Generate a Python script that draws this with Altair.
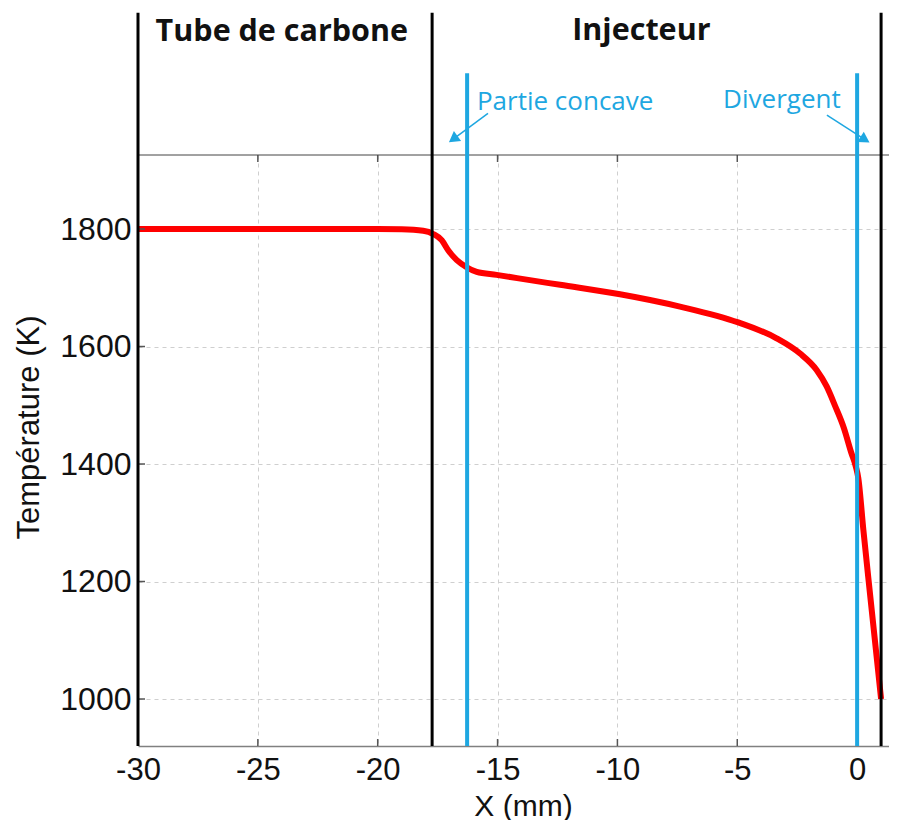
import altair as alt
import pandas as pd

# ---- data ----
x_mm = [-30, -25, -20, -19, -18.1, -17.68, -17.33, -17.06, -16.7, -16.29, -15.87,
        -15.04, -13.65, -12.39, -9.89, -7.39, -4.96, -3.36, -2.38, -1.69, -1.27,
        -0.92, -0.55, -0.25, -0.05, 0.05, 0.26, 0.54, 1.0]
temp_k = [1800, 1800, 1800, 1799.5, 1797, 1791.5, 1781, 1764, 1747, 1735, 1727,
          1722, 1713, 1705, 1689, 1668, 1641, 1614, 1588, 1560, 1532,
          1499, 1461, 1420, 1395, 1376, 1288, 1178, 1000]

x_ticks = [-30, -25, -20, -15, -10, -5, 0]
y_ticks = [1000, 1200, 1400, 1600, 1800]

X_DOMAIN = [-30, 1.33]
Y_DOMAIN = [920, 1926]

boundary_x = [-30, -17.73, 1.0]          # black vertical lines
boundary_top = 2168
marker_x = [-16.27, 0.0]                 # blue vertical lines
marker_top = 2065

region_labels = ["Tube de carbone", "Injecteur"]
region_label_x = [-24.0, -9.0]
region_label_y = [2120, 2122]

marker_labels = ["Partie concave", "Divergent"]
marker_label_x = [-15.86, -5.59]
marker_label_y = [2003, 2006]

arrow_x0 = [-15.40, -1.26]
arrow_y0 = [1997, 1994]
arrow_x1 = [-16.85, 0.33]
arrow_y1 = [1953, 1952]
arrow_angle = [234, 122]

BLUE = "#1EA7E1"
FONT = "Liberation Sans"

xs = alt.Scale(domain=X_DOMAIN, nice=False, zero=False)
ys = alt.Scale(domain=Y_DOMAIN, nice=False, zero=False)

curve = pd.DataFrame({"x": x_mm, "t": temp_k})

x_axis = alt.Axis(values=x_ticks, title="X (mm)", grid=True, gridDash=[4, 4],
                  gridColor="#cfcfcf", gridWidth=1, ticks=False, tickSize=0,
                  labelExpr="toString(datum.value)",
                  labelPadding=9, labelFontSize=31, labelFont=FONT, labelColor="#111",
                  labelFlush=False, labelOverlap=False,
                  titleFont=FONT, titleFontSize=30, titleFontWeight="normal", titleColor="#111",
                  titleX=385, titleY=69, titleBaseline="alphabetic",
                  domainColor="#808080", domainWidth=1.5)
y_axis = alt.Axis(values=y_ticks, title="Température (K)", grid=True, gridDash=[4, 4],
                  gridColor="#cfcfcf", gridWidth=1, ticks=False, tickSize=0, domain=False,
                  labelExpr="toString(datum.value)",
                  labelPadding=7, labelFontSize=32, labelFont=FONT, labelColor="#111",
                  labelFlush=False,
                  titleFont=FONT, titleFontSize=31, titleFontWeight="normal", titleColor="#111",
                  titleAngle=270, titleX=-100, titleY=272, titleBaseline="alphabetic",
                  titleAlign="center")


def X(f):
    return alt.X(f, scale=xs, axis=x_axis)


def Y(f):
    return alt.Y(f, scale=ys, axis=y_axis)


line = alt.Chart(curve).mark_line(color="#FF0000", strokeWidth=6, strokeJoin="round",
                                  interpolate="monotone").encode(
    x=X("x:Q"), y=Y("t:Q"),
)

# inward tick marks (Matlab-style box axes)
xt_df = pd.DataFrame({"x": x_ticks})
bottom_ticks = alt.Chart(xt_df).mark_rule(color="#555", strokeWidth=1.5).encode(
    x=X("x:Q"), y=alt.value(591), y2=alt.value(584),
)
top_ticks = alt.Chart(xt_df).mark_rule(color="#555", strokeWidth=1.5).encode(
    x=X("x:Q"), y=alt.value(0), y2=alt.value(7),
)
yt_df = pd.DataFrame({"y": y_ticks})
left_ticks = alt.Chart(yt_df).mark_rule(color="#555", strokeWidth=1.5).encode(
    y=Y("y:Q"), x=alt.value(0), x2=alt.value(7),
)

top_df = pd.DataFrame({"x": [X_DOMAIN[0]], "x2": [X_DOMAIN[1]], "y": [Y_DOMAIN[1]]})
top_rule = alt.Chart(top_df).mark_rule(color="#444", strokeWidth=1).encode(
    x=X("x:Q"), x2="x2:Q", y=Y("y:Q"),
)

bdf = pd.DataFrame({"x": boundary_x, "y": [Y_DOMAIN[0]] * 3, "y2": [boundary_top] * 3})
black_rules = alt.Chart(bdf).mark_rule(color="#000", strokeWidth=3).encode(
    x=X("x:Q"), y=Y("y:Q"), y2="y2:Q",
)

mdf = pd.DataFrame({"x": marker_x, "y": [Y_DOMAIN[0]] * 2, "y2": [marker_top] * 2})
blue_rules = alt.Chart(mdf).mark_rule(color=BLUE, strokeWidth=4).encode(
    x=X("x:Q"), y=Y("y:Q"), y2="y2:Q",
)

rdf = pd.DataFrame({"x": region_label_x, "y": region_label_y, "txt": region_labels})
region_text = alt.Chart(rdf).mark_text(font="Open Sans", fontWeight="bold", fontSize=30.5,
                                       align="center", baseline="alphabetic", color="#111").encode(
    x=X("x:Q"), y=Y("y:Q"), text="txt:N",
)

mldf = pd.DataFrame({"x": marker_label_x, "y": marker_label_y, "txt": marker_labels})
marker_text = alt.Chart(mldf).mark_text(font="Open Sans", fontSize=26, align="left",
                                        baseline="alphabetic", color=BLUE).encode(
    x=X("x:Q"), y=Y("y:Q"), text="txt:N",
)

arrow_rows = []
for i in range(len(arrow_x0)):
    arrow_rows.append({"id": i, "o": 0, "x": arrow_x0[i], "y": arrow_y0[i]})
    arrow_rows.append({"id": i, "o": 1, "x": arrow_x1[i], "y": arrow_y1[i]})
adf = pd.DataFrame(arrow_rows)
arrow_lines = alt.Chart(adf).mark_line(color=BLUE, strokeWidth=1.5).encode(
    x=X("x:Q"), y=Y("y:Q"), detail="id:N", order="o:Q",
)
hdf = pd.DataFrame({"x": arrow_x1, "y": arrow_y1, "a": arrow_angle})
arrow_heads = alt.Chart(hdf).mark_point(shape="triangle-up", filled=True, size=150,
                                        color=BLUE, opacity=1).encode(
    x=X("x:Q"), y=Y("y:Q"), angle=alt.Angle("a:Q", scale=None),
)

chart = alt.layer(line, bottom_ticks, top_ticks, left_ticks, top_rule, black_rules,
                  blue_rules, region_text, marker_text, arrow_lines, arrow_heads).properties(
    width=751, height=591,
    autosize=alt.AutoSizeParams(type="none"),
    padding={"left": 130, "top": 147, "right": 0, "bottom": 74},
).configure_view(stroke=None)

chart.save("out.html", embed_options={"renderer": "svg", "actions": False})
